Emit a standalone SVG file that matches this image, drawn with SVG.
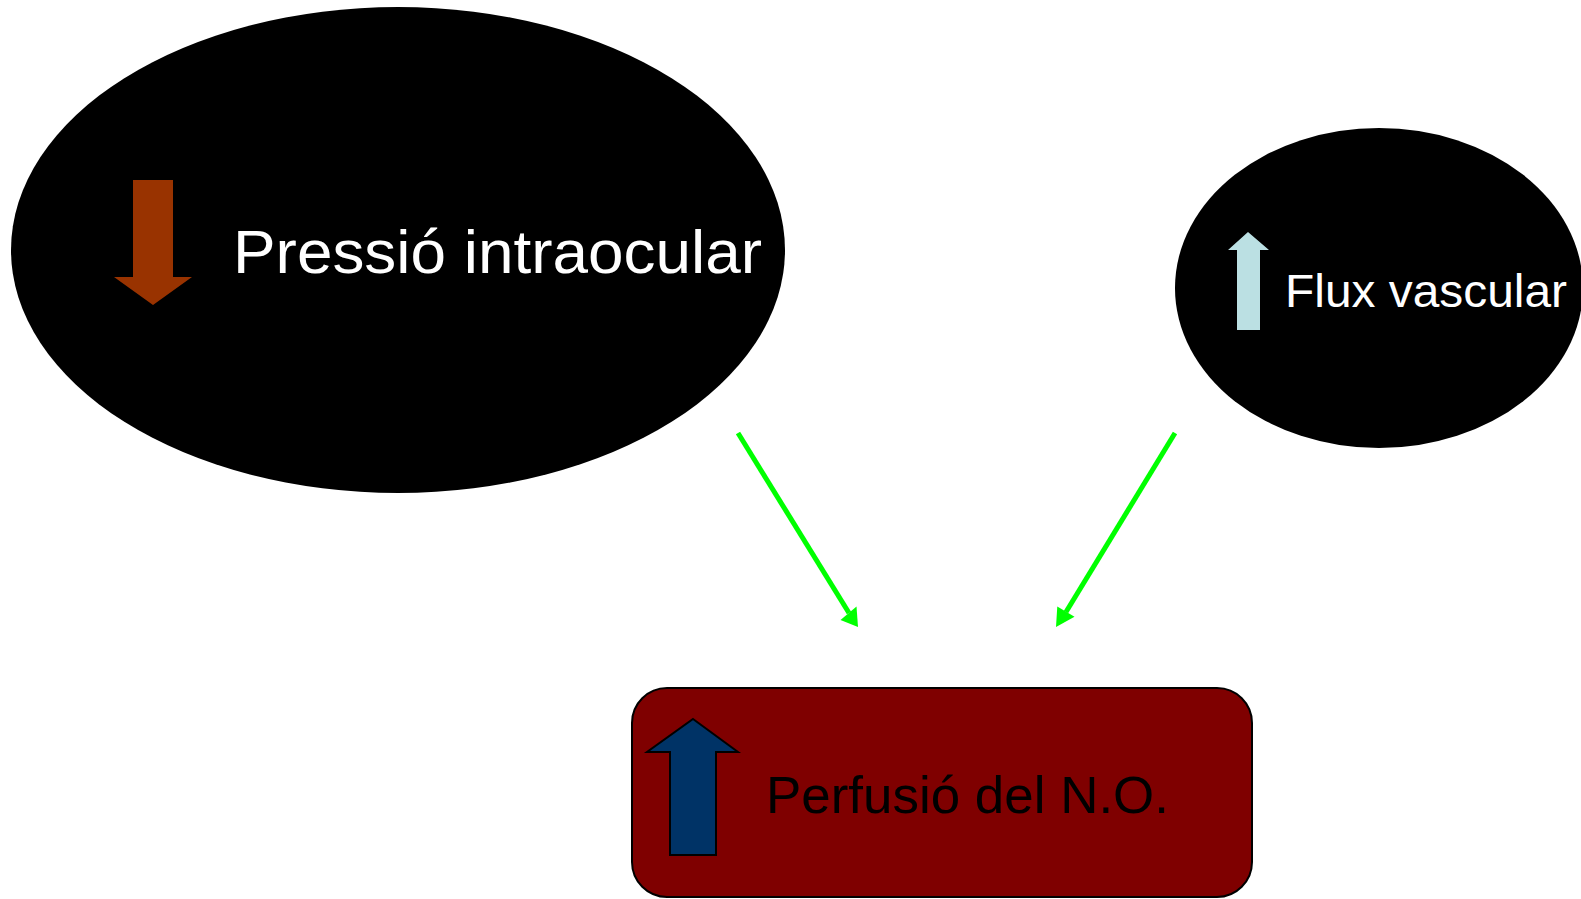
<svg xmlns="http://www.w3.org/2000/svg" width="1581" height="899" viewBox="0 0 1581 899">
<style>
.lbl{font-family:"Liberation Sans",Arial,sans-serif}
.conn{stroke:#00ff00;stroke-width:5;fill:none}
.head{fill:#00ff00}
</style>
<rect width="1581" height="899" fill="#ffffff"/>
<g id="node-pressio">
<ellipse cx="398" cy="250" rx="387" ry="243" fill="#000000"/>
<polygon points="133,180 173,180 173,277 192,277 153,305 114,277 133,277" fill="#993300"/>
<text class="lbl" x="233" y="273" font-size="62" fill="#ffffff" textLength="529" lengthAdjust="spacingAndGlyphs">Pressió intraocular</text>
</g>
<g id="node-flux">
<ellipse cx="1379" cy="288" rx="204" ry="160" fill="#000000"/>
<polygon points="1248,232 1269,250 1260,250 1260,330 1237,330 1237,250 1228,250" fill="#bbe0e3"/>
<text class="lbl" x="1285" y="307" font-size="46.5" fill="#ffffff" textLength="282" lengthAdjust="spacingAndGlyphs">Flux vascular</text>
</g>
<g id="node-perfusio">
<rect x="632" y="688" width="620" height="209" rx="35" ry="35" fill="#7f0000" stroke="#000000" stroke-width="2"/>
<polygon points="693,719 738,752 716,752 716,855 670,855 670,752 647,752" fill="#003366" stroke="#000000" stroke-width="2"/>
<text class="lbl" x="766" y="813" font-size="52" fill="#000000" textLength="403" lengthAdjust="spacingAndGlyphs">Perfusió del N.O.</text>
</g>
<g id="connectors">
<line class="conn" x1="738" y1="433" x2="849" y2="613"/>
<polygon class="head" points="858,627 840.5,620 856.5,606.5"/>
<line class="conn" x1="1175" y1="433" x2="1066" y2="612"/>
<polygon class="head" points="1056,627 1057.3,606.5 1074.5,616.7"/>
</g>
</svg>
